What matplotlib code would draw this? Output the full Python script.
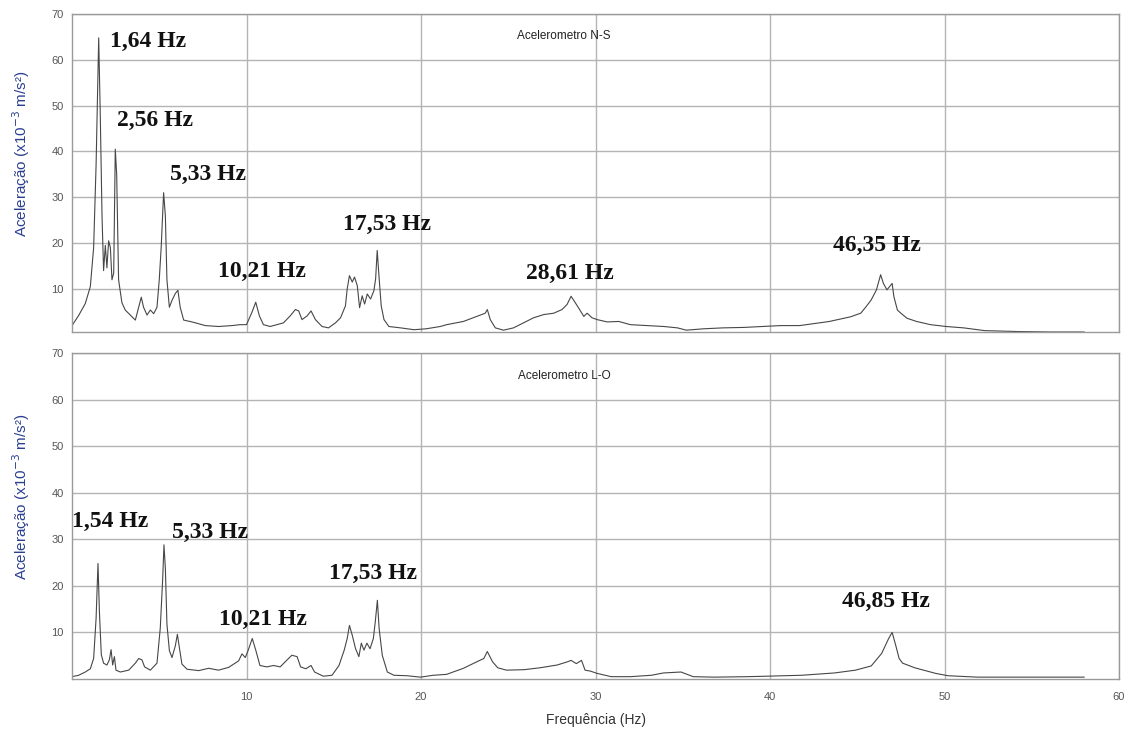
import matplotlib
matplotlib.use("Agg")
import matplotlib.pyplot as plt

plt.rcParams["font.family"] = ["Liberation Sans", "DejaVu Sans"]

# --- Acelerometro N-S ---
freq_ns = [0.0, 0.38, 0.76, 1.05, 1.24, 1.38, 1.53, 1.62, 1.72, 1.81, 1.91, 2.0,
           2.1, 2.2, 2.29, 2.39, 2.48, 2.56, 2.67, 2.86, 3.05, 3.34, 3.63, 3.82,
           3.97, 4.1, 4.3, 4.49, 4.68, 4.87, 5.0, 5.11, 5.25, 5.35, 5.44, 5.58,
           5.73, 5.92, 6.07, 6.2, 6.4, 6.88, 7.64, 8.4, 9.17, 9.63, 10.0, 10.3,
           10.53, 10.74, 10.97, 11.36, 11.74, 12.12, 12.5, 12.8, 12.99, 13.18,
           13.47, 13.7, 13.95, 14.33, 14.7, 15.1, 15.39, 15.67, 15.77, 15.9,
           16.06, 16.19, 16.35, 16.48, 16.63, 16.77, 16.92, 17.11, 17.3, 17.4,
           17.49, 17.59, 17.72, 17.88, 18.16, 18.83, 19.6, 20.3, 21.1, 21.47,
           22.43, 23.2, 23.68, 23.8, 23.97, 24.26, 24.73, 25.3, 25.88, 26.45,
           27.03, 27.6, 28.08, 28.37, 28.6, 28.79, 29.04, 29.33, 29.52, 29.8,
           30.1, 30.67, 31.34, 32.0, 32.97, 33.92, 34.7, 35.2, 36.2, 37.3, 38.5,
           39.6, 40.6, 41.7, 43.4, 44.6, 45.2, 45.5, 45.8, 46.1, 46.34, 46.5,
           46.7, 47.0, 47.1, 47.3, 47.5, 47.85, 48.4, 49.2, 50.1, 51.1, 52.3,
           54.2, 56.1, 58.0]
acc_ns = [2.0, 4.2, 6.8, 10.5, 19.0, 37.0, 64.8, 48.0, 26.0, 14.0, 19.5, 14.6,
          20.5, 19.0, 12.0, 13.5, 40.5, 35.0, 12.0, 7.0, 5.4, 4.3, 3.2, 6.0,
          8.2, 6.0, 4.3, 5.4, 4.6, 6.0, 12.0, 19.0, 31.0, 26.0, 12.0, 6.0,
          7.5, 9.0, 9.7, 6.0, 3.2, 2.8, 2.0, 1.8, 2.0, 2.2, 2.2, 4.8,
          7.1, 4.1, 2.2, 1.8, 2.2, 2.6, 4.1, 5.5, 5.2, 3.3,
          4.1, 5.2, 3.3, 1.8, 1.5, 2.6, 3.7, 6.3, 10.0, 12.9,
          11.5, 12.6, 10.7, 5.9, 8.5, 6.7, 8.9, 7.8, 9.6, 12.2,
          18.4, 12.9, 6.3, 3.3, 1.8, 1.5, 1.1, 1.3, 1.8, 2.2,
          2.9, 4.0, 4.7, 5.5, 3.3, 1.5, 1.0, 1.5, 2.6, 3.7,
          4.4, 4.7, 5.5, 6.6, 8.4, 7.3, 5.8, 4.0, 4.7, 3.7,
          3.3, 2.8, 2.9, 2.2, 2.0, 1.8, 1.5, 1.0, 1.3, 1.5, 1.6,
          1.8, 2.0, 2.0, 2.9, 3.9, 4.7, 6.1, 7.6, 9.8, 13.1, 11.2,
          9.8, 11.2, 8.3, 5.4, 4.7, 3.6, 2.9, 2.2, 1.8, 1.5, 0.9,
          0.7, 0.6, 0.6]

# --- Acelerometro L-O ---
freq_lo = [0.0, 0.38, 0.76, 1.05, 1.24, 1.38, 1.49, 1.57, 1.68, 1.81, 2.0, 2.14,
           2.24, 2.33, 2.43, 2.52, 2.77, 3.25, 3.63, 3.82, 4.01, 4.16, 4.49,
           4.87, 5.06, 5.2, 5.27, 5.35, 5.44, 5.58, 5.73, 5.92, 6.04, 6.15, 6.3,
           6.59, 7.26, 7.83, 8.4, 8.98, 9.55, 9.74, 9.93, 10.1, 10.33, 10.53,
           10.77, 11.16, 11.55, 11.93, 12.3, 12.6, 12.9, 13.1, 13.4, 13.7, 13.9,
           14.4, 14.9, 15.3, 15.6, 15.77, 15.9, 16.06, 16.25, 16.44, 16.58,
           16.73, 16.9, 17.08, 17.27, 17.38, 17.5, 17.6, 17.78, 18.07, 18.45,
           19.2, 19.97, 20.7, 21.47, 22.43, 23.2, 23.6, 23.8, 23.95, 24.1, 24.4,
           24.9, 25.9, 26.8, 27.8, 28.4, 28.6, 28.9, 29.2, 29.4, 29.7, 30.1,
           30.9, 32.0, 33.2, 33.9, 34.9, 35.6, 36.8, 38.7, 39.8, 41.8, 43.7,
           44.9, 45.8, 46.4, 46.8, 47.0, 47.2, 47.4, 47.6, 48.3, 49.5, 50.2,
           51.9, 55.2, 58.0]
acc_lo = [0.5, 0.8, 1.5, 2.2, 4.4, 13.0, 24.8, 14.5, 5.2, 3.4, 3.0, 4.1,
          6.3, 3.0, 4.8, 1.9, 1.5, 1.9, 3.4, 4.4, 4.1, 2.6, 1.9,
          3.4, 11.0, 21.8, 28.8, 23.8, 11.8, 6.1, 4.6, 7.1, 9.6, 6.8, 3.2,
          2.1, 1.8, 2.3, 1.9, 2.5, 3.9, 5.4, 4.6, 6.2, 8.7, 6.2,
          2.9, 2.6, 2.9, 2.6, 4.0, 5.1, 4.8, 2.6, 2.2, 2.9, 1.5,
          0.6, 0.8, 2.9, 6.2, 8.7, 11.5, 9.4, 6.5, 4.8, 7.7,
          6.2, 7.7, 6.5, 8.7, 12.3, 16.9, 10.9, 5.1, 1.5, 0.8,
          0.7, 0.4, 0.8, 1.0, 2.3, 3.7, 4.4, 5.9, 4.8, 3.7, 2.4,
          1.9, 2.0, 2.4, 3.0, 3.7, 4.0, 3.3, 4.0, 1.9, 1.7, 1.2,
          0.5, 0.5, 0.8, 1.3, 1.5, 0.5, 0.4, 0.5, 0.6, 0.8, 1.3,
          1.9, 2.8, 5.5, 8.7, 10.0, 7.3, 4.4, 3.4, 2.4, 1.2, 0.7,
          0.4, 0.4, 0.4]

titles = ["Acelerometro N-S", "Acelerometro L-O"]
labels_ns = [("1,64 Hz", 2.18, 63.9), ("2,56 Hz", 2.58, 46.8), ("5,33 Hz", 5.62, 35.0),
             ("10,21 Hz", 8.37, 13.8), ("17,53 Hz", 15.53, 24.1),
             ("28,61 Hz", 26.0, 13.3), ("46,35 Hz", 43.6, 19.5)]
labels_lo = [("1,54 Hz", 0.0, 33.8), ("5,33 Hz", 5.73, 31.4), ("10,21 Hz", 8.42, 12.7),
             ("17,53 Hz", 14.73, 22.6), ("46,85 Hz", 44.1, 16.6)]

W, H = 1125, 735
fig = plt.figure(figsize=(W / 100, H / 100), dpi=100)
ax_top = fig.add_axes([72 / W, (H - 332) / H, 1047 / W, 318 / H])
ax_bot = fig.add_axes([72 / W, (H - 679) / H, 1047 / W, 326 / H])

panels = [(ax_top, freq_ns, acc_ns, labels_ns, titles[0], (0.6, 70)),
          (ax_bot, freq_lo, acc_lo, labels_lo, titles[1], (0, 70))]

for ax, f, a, labs, title, ylim in panels:
    ax.plot(f, a, color="#474747", lw=0.8)
    ax.set_xlim(0, 60)
    ax.set_ylim(*ylim)
    ax.set_xticks(range(10, 61, 10))
    ax.set_yticks(range(10, 71, 10))
    ax.grid(True, color="#b4b4b4", lw=1.0)
    ax.set_axisbelow(True)
    for s in ax.spines.values():
        s.set_color("#9a9a9a")
        s.set_linewidth(1.0)
    ax.tick_params(length=0, labelsize=8, labelcolor="#555555", pad=6)
    ax.set_ylabel("Aceleração (x10$^{-3}$ m/s²)", color="#2a3f8f", fontsize=11)
    ax.yaxis.set_label_coords(-0.038, 0.56)
    ax.text(0.47, 0.93, title, transform=ax.transAxes, ha="center", va="center",
            fontsize=8.5, color="#222222")
    for txt, x, y in labs:
        ax.text(x, y, txt, ha="left", va="center", fontsize=17, fontweight="bold",
                family="Liberation Serif", color="#111111")

ax_top.tick_params(labelbottom=False)
ax_bot.tick_params(axis="x", pad=9)
ax_bot.set_xlabel("Frequência (Hz)", fontsize=10, color="#333333", labelpad=8)

fig.savefig("out.png", dpi=100)
